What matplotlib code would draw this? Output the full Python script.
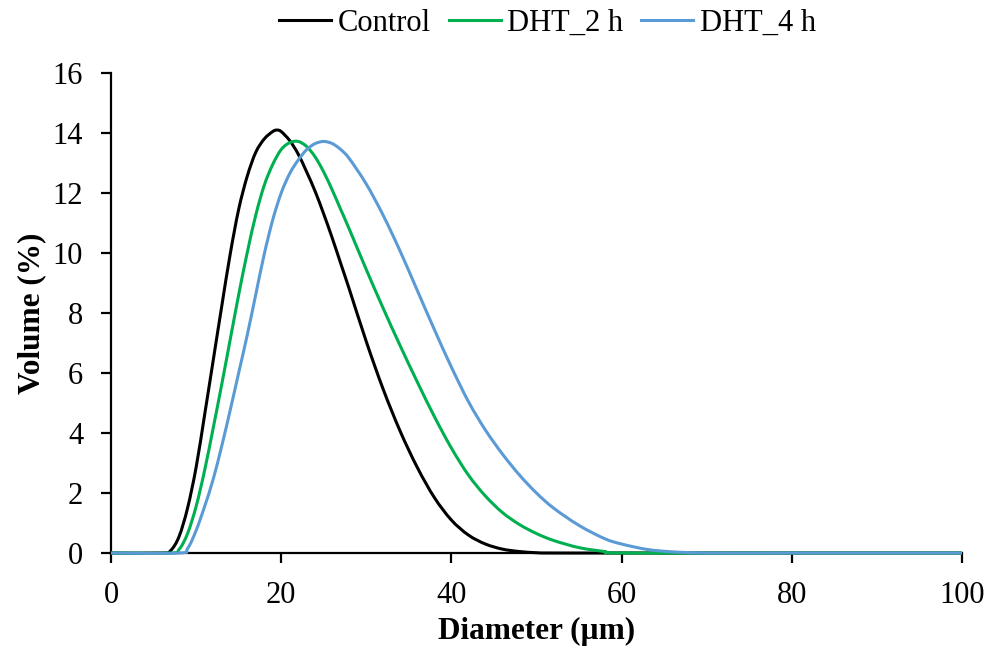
import numpy as np
import matplotlib.pyplot as plt
from matplotlib.path import Path
from matplotlib.patches import PathPatch
from matplotlib.lines import Line2D

plt.rcParams['font.family'] = ['Liberation Serif', 'DejaVu Serif']

# Particle size distribution
ctrl_x = [0, 6, 7, 8, 9, 10, 11, 12, 13, 14, 15, 16, 17, 18, 19, 19.5, 20, 21, 22, 23, 24, 25,
          26, 27, 28, 30, 32, 34, 36, 38, 40, 42, 44, 46, 48, 50, 52, 60, 80, 100]
ctrl_y = [0, 0, 0.08, 0.55, 1.5, 2.85, 4.6, 6.4, 8.2, 9.95, 11.45, 12.55, 13.35, 13.8, 14.05, 14.1,
          14.05, 13.75, 13.3, 12.7, 12.05, 11.3, 10.5, 9.65, 8.8, 7.05, 5.45, 4.05, 2.85, 1.85,
          1.1, 0.6, 0.3, 0.13, 0.05, 0.01, 0, 0, 0, 0]

dht2_x = [0, 7, 8, 9, 10, 11, 12, 13, 14, 15, 16, 17, 18, 19, 20, 21, 22, 23, 24, 25, 26, 27,
          28, 30, 32, 34, 36, 38, 40, 42, 44, 46, 48, 50, 52, 55, 58, 60, 80, 100]
dht2_y = [0, 0, 0.12, 0.65, 1.55, 2.75, 4.15, 5.6, 7.1, 8.6, 10.0, 11.25, 12.25, 12.95, 13.45,
          13.68, 13.72, 13.55, 13.2, 12.7, 12.1, 11.45, 10.8, 9.45, 8.15, 6.9, 5.7, 4.55, 3.5,
          2.6, 1.9, 1.35, 0.95, 0.65, 0.42, 0.18, 0.05, 0, 0, 0]

dht4_x = [0, 8, 9, 10, 11, 12, 13, 14, 15, 16, 17, 18, 19, 20, 21, 22, 23, 24, 25, 26, 27, 28,
          30, 32, 34, 36, 38, 40, 42, 44, 46, 48, 50, 52, 55, 58, 60, 63, 66, 70, 80, 100]
dht4_y = [0, 0, 0.15, 0.75, 1.55, 2.45, 3.55, 4.75, 6.0, 7.25, 8.6, 9.95, 11.1, 12.0, 12.65,
          13.1, 13.45, 13.65, 13.72, 13.65, 13.45, 13.15, 12.3, 11.25, 10.05, 8.75, 7.45, 6.2,
          5.05, 4.1, 3.3, 2.6, 2.0, 1.5, 0.92, 0.48, 0.3, 0.12, 0.04, 0, 0, 0]

names = ['Control', 'DHT_2 h', 'DHT_4 h']
colors = ['black', '#00B050', '#5B9BD5']
series = [(ctrl_x, ctrl_y), (dht2_x, dht2_y), (dht4_x, dht4_y)]


def smooth_path(xs, ys):
    # Excel-style "smoothed line": Catmull-Rom segments as cubic Beziers
    p = np.column_stack([xs, ys]).astype(float)
    verts = [p[0]]
    codes = [Path.MOVETO]
    n = len(p)
    for i in range(n - 1):
        p0 = p[i - 1] if i > 0 else p[i]
        p1, p2 = p[i], p[i + 1]
        p3 = p[i + 2] if i + 2 < n else p[i + 1]
        c1 = p1 + (p2 - p0) / 6.0
        c2 = p2 - (p3 - p1) / 6.0
        verts += [c1, c2, p2]
        codes += [Path.CURVE4] * 3
    return Path(verts, codes)


fig = plt.figure(figsize=(9.9, 6.53), dpi=100)
ax = fig.add_axes([0.1121, 0.1531, 0.8596, 0.7350])

handles = []
for (xs, ys), name, col in zip(series, names, colors):
    patch = PathPatch(smooth_path(xs, ys), facecolor='none', edgecolor=col,
                      linewidth=2.2, clip_on=False, zorder=3)
    ax.add_patch(patch)
    handles.append(Line2D([], [], color=col, linewidth=2.2, label=name))

ax.set_xlim(0, 100)
ax.set_ylim(0, 16)
ax.set_xticks(np.arange(0, 101, 20))
ax.set_yticks(np.arange(0, 17, 2))
ax.spines['top'].set_visible(False)
ax.spines['right'].set_visible(False)
ax.spines['left'].set_linewidth(1.6)
ax.spines['bottom'].set_linewidth(1.6)
ax.tick_params(direction='out', length=7, width=1.6, labelsize=22, pad=13)

ax.set_xlabel('Diameter (µm)', fontsize=22.5, fontweight='bold', labelpad=5)
ax.set_ylabel('Volume (%)', fontsize=22.5, fontweight='bold', labelpad=5)

ax.legend(handles=handles, loc='center', bbox_to_anchor=(0.513, 1.103), ncol=3,
          frameon=False, fontsize=22, handlelength=1.7, handletextpad=0.2,
          columnspacing=0.6, borderaxespad=0, borderpad=0)

fig.savefig('out.png', dpi=100)
